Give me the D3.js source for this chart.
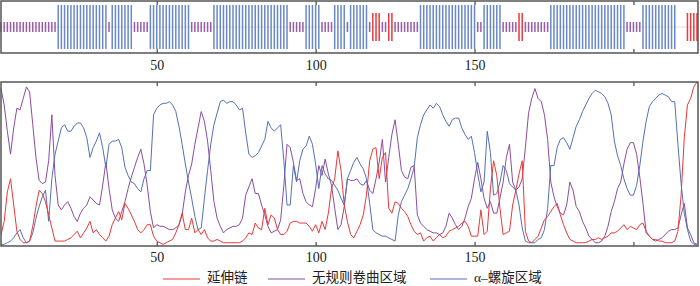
<!DOCTYPE html>
<html>
<head>
<meta charset="utf-8">
<script src="https://cdn.jsdelivr.net/npm/d3@7"></script>
<style>
  body { margin: 0; background: #fff; }
  svg { display: block; }
</style>
</head>
<body>
<script>
// secondary structure per residue, as runs: h = helix, e = extended, c = coil, t = not drawn
var ssRuns = [["c",18],["h",16],["c",1],["h",7],["c",5],["h",13],["c",7],["h",24],["c",5],
              ["h",5],["c",4],["h",4],["c",1],["h",6],["c",1],["e",3],["c",2],["e",2],["c",8],
              ["h",18],["c",2],["h",6],["c",5],["e",2],["c",8],["h",24],["c",5],["h",11],["t",3],["e",4]];

// tick values and labels (200 has a tick but no label)
var tickValues = [50, 100, 150, 200];
var tickLabels = ["50", "100", "150", ""];

// series names for the legend
var seriesNames = ["延伸链", "无规则卷曲区域", "α–螺旋区域"];

// extended strand, residues 1..220
var strand = [
 0.07,0.15,0.33,0.41,0.25,0.09,0.04,0.02,0.02,0.03,0.12,0.24,0.34,0.32,0.27,0.19,0.11,0.03,0.03,0.03,
 0.03,0.04,0.05,0.07,0.09,0.05,0.08,0.11,0.15,0.08,0.10,0.07,0.05,0.03,0.06,0.13,0.17,0.21,0.16,0.26,
 0.23,0.19,0.15,0.10,0.08,0.10,0.13,0.13,0.06,0.03,0.02,0.01,0.02,0.03,0.04,0.08,0.13,0.20,0.10,0.10,
 0.17,0.08,0.10,0.07,0.10,0.05,0.03,0.03,0.04,0.03,0.02,0.02,0.02,0.02,0.02,0.02,0.03,0.05,0.08,0.07,
 0.14,0.11,0.10,0.23,0.13,0.19,0.17,0.10,0.07,0.07,0.09,0.14,0.15,0.15,0.14,0.14,0.14,0.12,0.09,0.13,
 0.08,0.15,0.10,0.20,0.35,0.41,0.58,0.46,0.25,0.15,0.07,0.05,0.09,0.13,0.19,0.31,0.52,0.59,0.60,0.41,
 0.54,0.57,0.23,0.20,0.27,0.26,0.23,0.21,0.18,0.13,0.09,0.07,0.08,0.03,0.05,0.06,0.03,0.05,0.07,0.05,
 0.06,0.09,0.10,0.11,0.12,0.14,0.15,0.12,0.06,0.06,0.06,0.22,0.07,0.09,0.35,0.52,0.43,0.23,0.07,0.08,
 0.09,0.25,0.34,0.44,0.52,0.09,0.03,0.02,0.04,0.06,0.11,0.16,0.18,0.21,0.24,0.26,0.19,0.13,0.08,0.04,
 0.03,0.02,0.02,0.02,0.02,0.03,0.04,0.04,0.05,0.04,0.05,0.06,0.08,0.08,0.09,0.11,0.13,0.10,0.12,0.11,
 0.10,0.13,0.14,0.09,0.06,0.04,0.04,0.03,0.03,0.02,0.02,0.02,0.03,0.09,0.31,0.66,0.86,0.90,0.97,1.00
];

// random coil, residues 1..220
var coil = [
 0.96,0.86,0.70,0.56,0.72,0.84,0.83,0.90,0.97,0.94,0.74,0.54,0.40,0.38,0.39,0.52,0.80,0.43,0.25,0.22,
 0.25,0.27,0.23,0.18,0.15,0.20,0.23,0.25,0.30,0.28,0.26,0.25,0.37,0.51,0.35,0.22,0.17,0.15,0.21,0.27,
 0.35,0.42,0.48,0.54,0.59,0.50,0.37,0.21,0.11,0.13,0.12,0.12,0.11,0.10,0.10,0.11,0.13,0.19,0.33,0.43,
 0.50,0.62,0.72,0.82,0.76,0.64,0.46,0.27,0.17,0.12,0.08,0.10,0.11,0.12,0.12,0.13,0.17,0.31,0.36,0.41,
 0.32,0.32,0.25,0.19,0.12,0.08,0.09,0.10,0.16,0.37,0.62,0.60,0.51,0.40,0.41,0.32,0.27,0.25,0.24,0.35,
 0.49,0.43,0.53,0.44,0.37,0.23,0.10,0.13,0.24,0.41,0.40,0.40,0.41,0.38,0.37,0.40,0.34,0.32,0.41,0.51,
 0.65,0.39,0.54,0.68,0.77,0.62,0.46,0.42,0.41,0.48,0.49,0.19,0.14,0.12,0.10,0.09,0.08,0.08,0.07,0.08,
 0.12,0.20,0.17,0.13,0.10,0.12,0.17,0.24,0.29,0.41,0.51,0.41,0.29,0.23,0.27,0.20,0.20,0.29,0.39,0.54,
 0.62,0.39,0.34,0.36,0.41,0.60,0.81,0.90,0.96,0.90,0.88,0.80,0.65,0.39,0.30,0.24,0.20,0.19,0.25,0.39,
 0.34,0.24,0.21,0.15,0.11,0.06,0.04,0.02,0.02,0.03,0.06,0.12,0.21,0.27,0.35,0.39,0.50,0.59,0.63,0.63,
 0.56,0.42,0.26,0.08,0.06,0.04,0.03,0.04,0.05,0.07,0.09,0.10,0.10,0.11,0.19,0.26,0.11,0.07,0.02,0.01
];

// alpha helix, residues 1..220
var helix = [
 0.01,0.01,0.02,0.03,0.05,0.08,0.10,0.05,0.02,0.03,0.08,0.17,0.24,0.30,0.34,0.15,0.41,0.56,0.64,0.72,
 0.74,0.70,0.70,0.73,0.75,0.75,0.72,0.66,0.54,0.60,0.64,0.69,0.60,0.48,0.62,0.64,0.64,0.65,0.60,0.48,
 0.43,0.39,0.38,0.35,0.33,0.41,0.46,0.46,0.80,0.84,0.86,0.87,0.87,0.88,0.86,0.82,0.73,0.62,0.50,0.39,
 0.29,0.18,0.10,0.11,0.29,0.46,0.62,0.74,0.81,0.88,0.89,0.87,0.88,0.88,0.86,0.83,0.84,0.69,0.56,0.54,
 0.55,0.57,0.61,0.65,0.76,0.72,0.70,0.72,0.74,0.52,0.25,0.25,0.49,0.39,0.52,0.59,0.61,0.67,0.62,0.50,
 0.35,0.49,0.44,0.41,0.40,0.37,0.34,0.29,0.25,0.41,0.46,0.51,0.54,0.50,0.47,0.41,0.26,0.10,0.08,0.07,
 0.06,0.06,0.05,0.04,0.03,0.19,0.27,0.31,0.35,0.41,0.48,0.66,0.74,0.80,0.83,0.86,0.84,0.87,0.85,0.80,
 0.76,0.73,0.77,0.78,0.78,0.72,0.68,0.65,0.67,0.57,0.44,0.33,0.39,0.70,0.57,0.31,0.32,0.39,0.49,0.46,
 0.38,0.36,0.34,0.25,0.11,0.03,0.02,0.02,0.02,0.04,0.05,0.10,0.23,0.49,0.49,0.60,0.65,0.66,0.63,0.59,
 0.66,0.73,0.77,0.82,0.86,0.90,0.93,0.95,0.94,0.93,0.91,0.87,0.80,0.64,0.55,0.49,0.41,0.35,0.31,0.31,
 0.37,0.49,0.64,0.76,0.85,0.88,0.90,0.92,0.93,0.92,0.91,0.88,0.88,0.62,0.38,0.20,0.10,0.03,0.01,0.01
];

var width = 700, height = 286;
var colors = { e: "#ea3838", c: "#8a4d9e", h: "#5570b7" };
var barColors = { e: "#e83a3c", c: "#9a5da9", h: "#6a88c6" };
var fontFamily = "'Liberation Serif', 'Noto Sans CJK SC', serif";

var svg = d3.select("body")
    .append("svg")
    .attr("width", width)
    .attr("height", height);

// shared x scale (residue number)
var x = d3.scaleLinear().domain([1, 220]).range([1, 697]);

// ---------- top panel: structure track ----------
var track = { top: 1, bottom: 53, mid: 27 };

// expand the runs to one code per residue
var ss = [];
ssRuns.forEach(function(r) {
    for (var i = 0; i < r[1]; i++) ss.push(r[0]);
});
var ssData = ss.map(function(s, i) { return { res: i + 1, s: s }; })
    .filter(function(d) { return d.s != "t"; });

// half heights of the bars for each structure type
var halfH = { h: 22, e: 14, c: 5 };

svg.append("line")
    .attr("x1", x(1)).attr("x2", x(220))
    .attr("y1", track.mid).attr("y2", track.mid)
    .attr("stroke", "#e6dcea")
    .attr("stroke-width", 1);

svg.append("g")
    .selectAll("line")
    .data(ssData)
    .enter()
    .append("line")
      .attr("x1", function(d) { return x(d.res); })
      .attr("x2", function(d) { return x(d.res); })
      .attr("y1", function(d) { return track.mid - halfH[d.s]; })
      .attr("y2", function(d) { return track.mid + halfH[d.s]; })
      .attr("stroke", function(d) { return barColors[d.s]; })
      .attr("stroke-width", 1.5);

function drawFrame(top, bottom, labelPad) {
    // bottom axis with inward ticks
    var ax = svg.append("g")
        .attr("transform", "translate(0," + bottom + ")")
        .call(d3.axisBottom(x)
            .tickValues(tickValues)
            .tickSizeInner(-4)
            .tickSizeOuter(0)
            .tickPadding(labelPad)
            .tickFormat(function(d, i) { return tickLabels[i]; }));
    ax.select(".domain").remove();
    ax.selectAll("line").attr("stroke", "#444").attr("stroke-width", 1.2);
    ax.selectAll("text")
        .attr("fill", "#222")
        .style("font-family", fontFamily)
        .style("font-size", "14px");

    // top ticks, no labels
    var axTop = svg.append("g")
        .attr("transform", "translate(0," + top + ")")
        .call(d3.axisTop(x)
            .tickValues(tickValues)
            .tickSizeInner(-4)
            .tickSizeOuter(0)
            .tickFormat(""));
    axTop.select(".domain").remove();
    axTop.selectAll("line").attr("stroke", "#444").attr("stroke-width", 1.2);

    svg.append("rect")
        .attr("x", 1)
        .attr("y", top)
        .attr("width", 697)
        .attr("height", bottom - top)
        .attr("fill", "none")
        .attr("stroke", "#555")
        .attr("stroke-width", 1.5);
}

drawFrame(track.top, track.bottom, 7);

// ---------- bottom panel: probability lines ----------
var plot = { top: 82, bottom: 246 };
var y = d3.scaleLinear().domain([0, 1]).range([plot.bottom, plot.top]);

var series = [
    { key: "c", values: coil },
    { key: "h", values: helix },
    { key: "e", values: strand }
];

var valueline = d3.line()
    .x(function(d, i) { return x(i + 1); })
    .y(function(d) { return y(d); });

svg.append("g")
    .selectAll("path")
    .data(series)
    .enter()
    .append("path")
      .attr("d", function(d) { return valueline(d.values); })
      .attr("fill", "none")
      .attr("stroke", function(d) { return colors[d.key]; })
      .attr("stroke-width", 1)
      .attr("stroke-linejoin", "round");

drawFrame(plot.top, plot.bottom, 6);

// ---------- legend ----------
var legendY = 279;
var legendItems = [
    { key: "e", name: seriesNames[0], x0: 163, x1: 200 },
    { key: "c", name: seriesNames[1], x0: 268, x1: 305 },
    { key: "h", name: seriesNames[2], x0: 430, x1: 467 }
];

var legend = svg.append("g")
    .selectAll("g")
    .data(legendItems)
    .enter()
    .append("g");

legend.append("line")
    .attr("x1", function(d) { return d.x0; })
    .attr("x2", function(d) { return d.x1; })
    .attr("y1", legendY)
    .attr("y2", legendY)
    .attr("stroke", function(d) { return colors[d.key]; })
    .attr("stroke-width", 1.2);

legend.append("text")
    .attr("x", function(d) { return d.x1 + 7; })
    .attr("y", 281.5)
    .attr("fill", "#222")
    .style("font-family", fontFamily)
    .style("font-size", "13.5px")
    .text(function(d) { return d.name; });
</script>
</body>
</html>
